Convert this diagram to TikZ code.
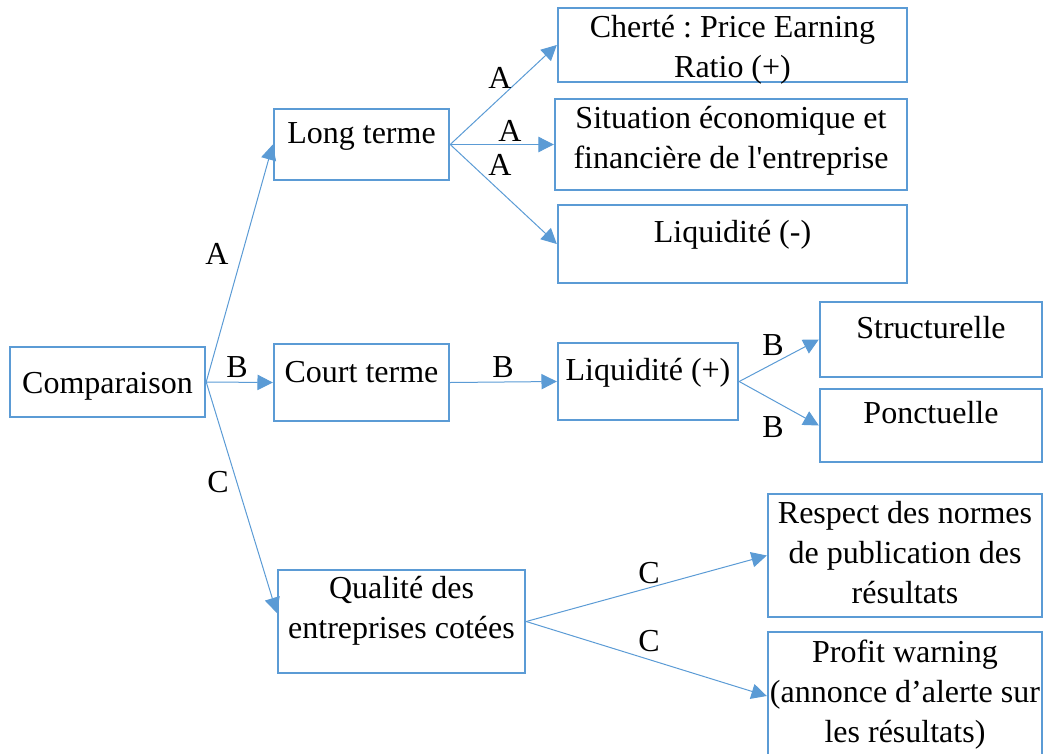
\documentclass[tikz,border=0pt]{standalone}
\usepackage{fontspec}
\setmainfont{Liberation Serif}
\usetikzlibrary{arrows.meta,positioning}
\definecolor{wblue}{RGB}{91,155,213}
\frenchspacing
\tikzset{
  box/.style={rectangle, draw=wblue, line width=1.8pt, inner xsep=0pt, inner ysep=0pt,
              anchor=base, align=center},
  ar/.style={-{Triangle[length=11.5pt,width=11.5pt]}, draw=wblue, line width=0.75pt},
  lbl/.style={inner sep=0pt},
}
\begin{document}
\begin{tikzpicture}[x=0.75pt, y=-0.75pt, every node/.style={font=\fontsize{24}{30}\selectfont}]
\useasboundingbox (0,0) rectangle (1044,753);
\node[box, minimum width=146.25pt, text height=34.5pt, text depth=18pt] (cmp) at (107.5,393) {Comparaison};
\node[box, minimum width=131.25pt, text height=25.5pt, text depth=27.75pt] (lt) at (361.5,143) {Long terme};
\node[box, minimum width=131.25pt, text height=28.5pt, text depth=29.25pt] (ct) at (361.5,382) {Court terme};
\node[box, minimum width=185.25pt, text height=51pt, text depth=26.25pt] (qc) at (401.5,638) {Qualité des\\entreprises cotées};
\node[box, minimum width=261.75pt, text height=51.75pt, text depth=3.75pt] (ch) at (732.5,77) {Cherté : Price Earning\\Ratio (+)};
\node[box, minimum width=264pt, text height=51.75pt, text depth=16.5pt] (si) at (731,168) {Situation économique et\\financière de l\textquotesingle entreprise};
\node[box, minimum width=261.75pt, text height=27.75pt, text depth=30.75pt] (lm) at (732.5,242) {Liquidité (-)};
\node[box, minimum width=135pt, text height=27.75pt, text depth=30pt] (lp) at (648,380) {Liquidité (+)};
\node[box, minimum width=166.5pt, text height=27pt, text depth=29.25pt] (st) at (931,338) {Structurelle};
\node[box, minimum width=166.5pt, text height=25.5pt, text depth=29.25pt] (po) at (931,423) {Ponctuelle};
\node[box, minimum width=205.5pt, text height=81.75pt, text depth=10.5pt] (re) at (905,603) {Respect des normes\\de publication des\\résultats};
\node[box, minimum width=205.5pt, text height=82.5pt, text depth=13.5pt] (pw) at (905,742) {Profit warning\\(annonce d’alerte sur\\les résultats)};
\draw[ar] (cmp.east)--(lt.west); \draw[ar] (cmp.east)--(ct.west);
\draw[ar] (cmp.east)--([yshift=6.4pt]qc.west);
\draw[ar] (lt.east)--(ch.west); \draw[ar] (lt.east)--(si.west); \draw[ar] (lt.east)--(lm.west);
\draw[ar] (ct.east)--(lp.west);
\draw[ar] (lp.east)--(st.west); \draw[ar] (lp.east)--(po.west);
\draw[ar] (qc.east)--(re.west); \draw[ar] (qc.east)--(pw.west);
\node[lbl] (a1) at (217,254) {A};
\node[lbl] (b1) at (237,367) {B};
\node[lbl] (c1) at (218,482) {C};
\node[lbl] (a2) at (500,78) {A};
\node[lbl] (a3) at (510,131) {A};
\node[lbl] (a4) at (500,165) {A};
\node[lbl] (b2) at (503,367) {B};
\node[lbl] (b3) at (773,345) {B};
\node[lbl] (b4) at (773,427) {B};
\node[lbl] (c2) at (649,573) {C};
\node[lbl] (c3) at (649,641) {C};
\end{tikzpicture}
\end{document}
